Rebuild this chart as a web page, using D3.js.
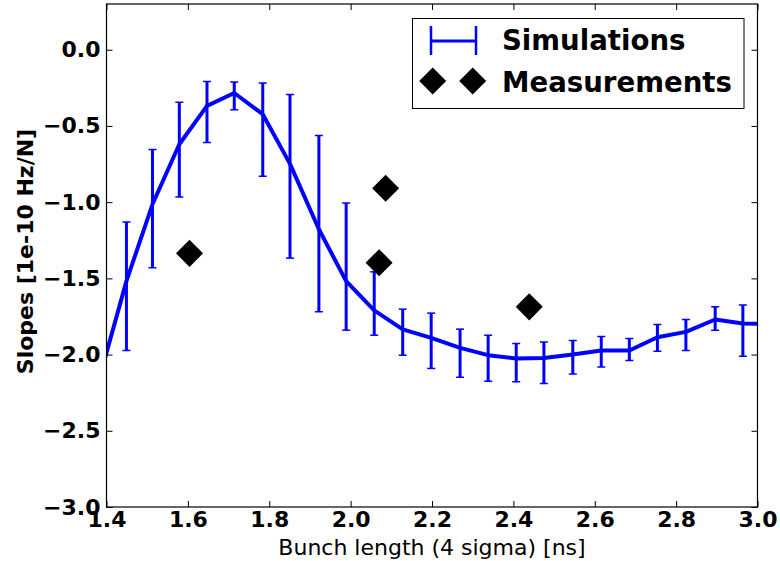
<!DOCTYPE html>
<html><head><meta charset="utf-8">
<script src="https://cdn.jsdelivr.net/npm/d3@7"></script>
<style>body{margin:0;background:#fff} svg{display:block}</style>
</head><body>
<svg id="chart" width="780" height="561"></svg>
<script>
// ---- data ----
const simX    = [1.380, 1.449, 1.513, 1.579, 1.647, 1.714, 1.784, 1.851, 1.922, 1.989, 2.058, 2.128, 2.198, 2.269, 2.338, 2.407, 2.475, 2.546, 2.616, 2.685, 2.754, 2.824, 2.896, 2.964, 3.033];
const simY    = [-2.18, -1.518, -1.014, -0.620, -0.368, -0.284, -0.423, -0.749, -1.178, -1.518, -1.710, -1.835, -1.890, -1.956, -2.004, -2.026, -2.022, -2.000, -1.973, -1.973, -1.886, -1.851, -1.770, -1.796, -1.800];
const simHigh = [-1.75, -1.131, -0.655, -0.344, -0.208, -0.212, -0.219, -0.294, -0.563, -1.005, -1.457, -1.702, -1.728, -1.833, -1.873, -1.928, -1.917, -1.907, -1.881, -1.894, -1.802, -1.770, -1.687, -1.675, -1.700];
const simLow  = [-2.60, -1.973, -1.431, -0.967, -0.609, -0.394, -0.830, -1.367, -1.719, -1.840, -1.873, -2.004, -2.091, -2.149, -2.175, -2.179, -2.190, -2.127, -2.081, -2.039, -1.978, -1.973, -1.840, -2.011, -1.900];
const measX   = [1.604, 2.086, 2.070, 2.439];
const measY   = [-1.336, -0.909, -1.397, -1.687];
const xTicks  = [1.4, 1.6, 1.8, 2.0, 2.2, 2.4, 2.6, 2.8, 3.0];
const yTicks  = [0.0, -0.5, -1.0, -1.5, -2.0, -2.5, -3.0];
const legendLabels = ["Simulations", "Measurements"];
const xLabel = "Bunch length (4 sigma) [ns]";
const yLabel = "Slopes [1e-10 Hz/N]";

// ---- layout ----
const L = 106.5, R = 757.5, T = 4, B = 507;
const svg = d3.select("#chart");
const font = "'DejaVu Sans', sans-serif";
const x = d3.scaleLinear().domain([1.4, 3.0]).range([L, R]);
const y = d3.scaleLinear().domain([-3.0, 0.3]).range([B, T]);
const fmt = v => d3.format(".1f")(v).replace("-", "\u2212");

svg.append("defs").append("clipPath").attr("id", "clip")
  .append("rect").attr("x", L).attr("y", T).attr("width", R - L).attr("height", B - T);

const plot = svg.append("g").attr("clip-path", "url(#clip)");
const sim = simX.map((v, i) => ({x: v, y: simY[i], lo: simLow[i], hi: simHigh[i]}));

// error bars
plot.selectAll("line.eb").data(sim).enter().append("line").attr("class", "eb")
  .attr("x1", d => x(d.x)).attr("x2", d => x(d.x))
  .attr("y1", d => y(d.hi)).attr("y2", d => y(d.lo))
  .attr("stroke", "#0000ff").attr("stroke-width", 3);
["hi", "lo"].forEach(k => {
  plot.selectAll("line.cap" + k).data(sim).enter().append("line").attr("class", "cap" + k)
    .attr("x1", d => x(d.x) - 4).attr("x2", d => x(d.x) + 4)
    .attr("y1", d => y(d[k])).attr("y2", d => y(d[k]))
    .attr("stroke", "#0000ff").attr("stroke-width", 1.5);
});
// line
plot.append("path").datum(sim)
  .attr("d", d3.line().x(d => x(d.x)).y(d => y(d.y)))
  .attr("fill", "none").attr("stroke", "#0000ff").attr("stroke-width", 4)
  .attr("stroke-linejoin", "round");

// measurements
const diamond = d3.symbol().type(d3.symbolSquare).size(365);
plot.selectAll("path.meas").data(measX.map((v, i) => ({x: v, y: measY[i]}))).enter()
  .append("path").attr("class", "meas")
  .attr("d", diamond)
  .attr("transform", d => `translate(${x(d.x)},${y(d.y)}) rotate(45)`)
  .attr("fill", "#000");

// axes
const styleAxis = g => {
  g.selectAll("text").attr("font-family", font).attr("font-size", 22).attr("font-weight", "bold").attr("fill", "#000");
  g.selectAll("line").attr("stroke", "#000").attr("stroke-width", 1);
  g.select(".domain").remove();
};
svg.append("g").attr("transform", `translate(0,${B})`)
  .call(d3.axisBottom(x).tickValues(xTicks).tickFormat(fmt).tickSizeInner(-6).tickSizeOuter(0).tickPadding(4))
  .call(styleAxis);
svg.append("g").attr("transform", `translate(0,${T})`)
  .call(d3.axisTop(x).tickValues(xTicks).tickFormat("").tickSizeInner(-6).tickSizeOuter(0))
  .call(styleAxis);
svg.append("g").attr("transform", `translate(${L},0)`)
  .call(d3.axisLeft(y).tickValues(yTicks).tickFormat(fmt).tickSizeInner(-6).tickSizeOuter(0).tickPadding(6))
  .call(styleAxis);
svg.append("g").attr("transform", `translate(${R},0)`)
  .call(d3.axisRight(y).tickValues(yTicks).tickFormat("").tickSizeInner(-6).tickSizeOuter(0))
  .call(styleAxis);

svg.append("rect").attr("x", L).attr("y", T).attr("width", R - L).attr("height", B - T)
  .attr("fill", "none").attr("stroke", "#000").attr("stroke-width", 1.2);

// axis labels
svg.append("text").attr("x", (L + R) / 2).attr("y", 555)
  .attr("text-anchor", "middle").attr("font-family", font).attr("font-size", 22)
  .attr("fill", "#000").text(xLabel);
svg.append("text").attr("transform", `translate(33,${(T + B) / 2 - 4}) rotate(-90)`)
  .attr("text-anchor", "middle").attr("font-family", font).attr("font-size", 22)
  .attr("font-weight", "bold").attr("fill", "#000").text(yLabel);

// legend
const lg = svg.append("g");
lg.append("rect").attr("x", 412.5).attr("y", 18.5).attr("width", 331.5).attr("height", 90)
  .attr("fill", "#fff").attr("stroke", "#000").attr("stroke-width", 1);
// simulations handle
lg.append("line").attr("x1", 431).attr("x2", 476).attr("y1", 41).attr("y2", 41)
  .attr("stroke", "#0000ff").attr("stroke-width", 3);
[431, 476].forEach(px => lg.append("line").attr("x1", px).attr("x2", px).attr("y1", 26).attr("y2", 55)
  .attr("stroke", "#0000ff").attr("stroke-width", 2.5));
// measurement handle
[432.7, 472.7].forEach(px => lg.append("path").attr("d", diamond)
  .attr("transform", `translate(${px},81) rotate(45)`).attr("fill", "#000"));
lg.selectAll("text.lt").data(legendLabels).enter().append("text").attr("class", "lt")
  .attr("x", 502).attr("y", (d, i) => 50 + i * 42)
  .attr("font-family", font).attr("font-size", 27.6).attr("font-weight", "bold")
  .attr("fill", "#000").text(d => d);
</script>
</body></html>
